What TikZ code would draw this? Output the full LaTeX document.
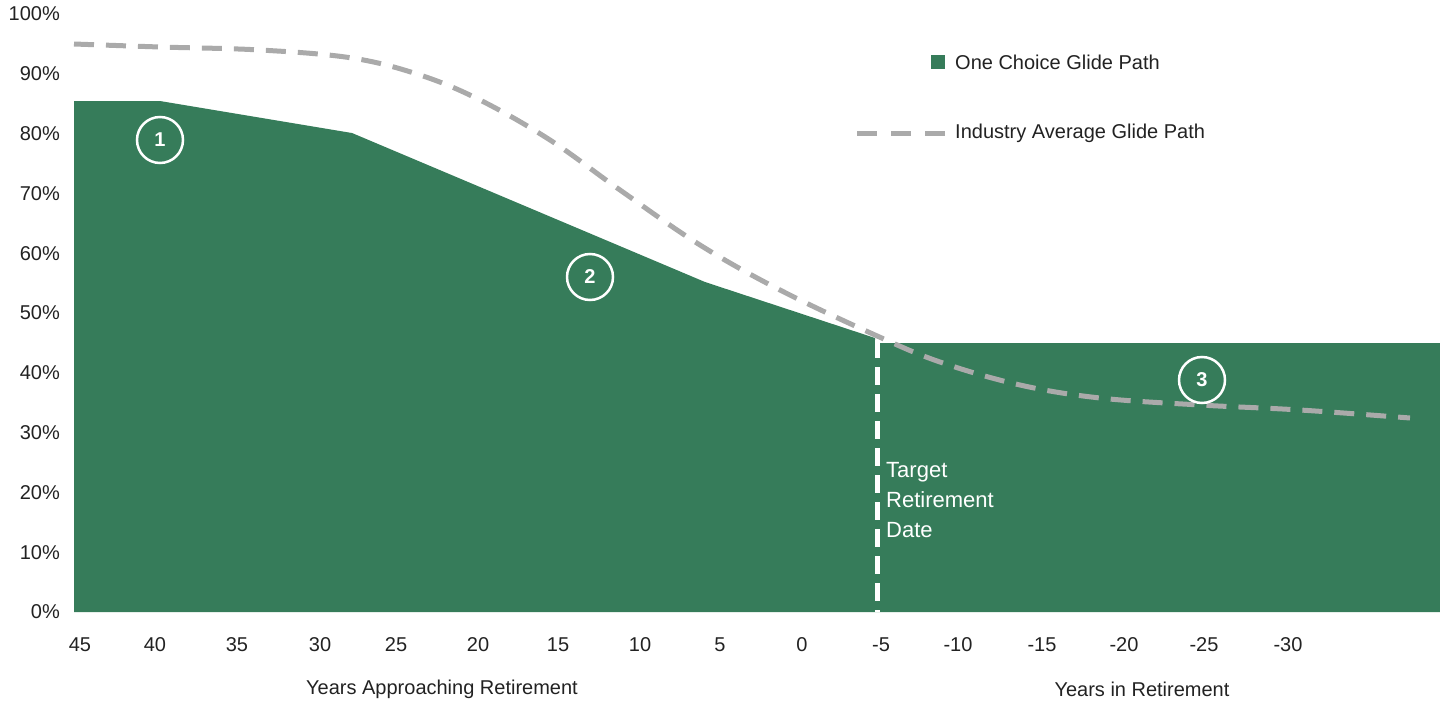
\documentclass[tikz,border=0pt]{standalone}
\usepackage{fontspec}
\setmainfont{Liberation Sans}
\definecolor{gp}{HTML}{367C5A}
\definecolor{dg}{HTML}{AAAAAA}
\definecolor{tx}{HTML}{222222}
\begin{document}
\begin{tikzpicture}[x=1pt,y=-1pt,
  lab/.style={text=tx,font=\fontsize{20}{24}\selectfont},
  num/.style={circle,draw=white,line width=2.5pt,minimum size=46pt,inner sep=0pt,text=white,font=\fontsize{20}{24}\selectfont\bfseries},
  avg/.style={dg,line width=5pt,dash pattern=on 20pt off 12pt}]
\useasboundingbox (0,0) rectangle (1440,712);
\fill[gp] (74,101) -- (160,101) -- (352,133) -- (705,282) -- (875,338) -- (875,343) -- (1440,343) -- (1440,612) -- (74,612) -- cycle;
\draw[avg] plot[smooth,tension=0.6] coordinates {(74,44) (160,47) (260,50) (352,58) (420,75) (480,100) (550,140) (620,190) (700,245) (780,290) (875,335) (940,362) (1020,385) (1100,398) (1200,405) (1300,410) (1410,418)};
\draw[white,line width=5pt,dash pattern=on 18pt off 9pt] (877,340) -- (877,612);
\node[lab,text=white,align=left,anchor=north west,inner sep=0pt,font=\fontsize{22}{30}\selectfont] (trd) at (886,462) {Target\\Retirement\\Date};
\node[num] (n1) at (160,140) {1};
\node[num] (n2) at (590,277) {2};
\node[num] (n3) at (1202,380) {3};
\foreach \p in {0,10,...,100}
  \node[lab,anchor=east,inner sep=0pt] (y\p) at (60,{612-5.98*\p}) {\p\%};
\foreach \v/\x in {45/80,40/155,35/237,30/320,25/396,20/478,15/558,10/640,5/720,0/802,-5/881,-10/958,-15/1042,-20/1124,-25/1204,-30/1288}
  \node[lab] (x\x) at (\x,645) {\v};
\node[lab] (t1) at (442,689) {Years Approaching Retirement};
\node[lab] (t2) at (1142,689) {Years in Retirement};
\fill[gp] (931,55) rectangle (945,69);
\node[lab,anchor=west,inner sep=0pt] (l1) at (955,62) {One Choice Glide Path};
\draw[avg,dash pattern=on 20pt off 14pt] (857,133) -- (945,133);
\node[lab,anchor=west,inner sep=0pt] (l2) at (955,133) {Industry Average Glide Path};
\end{tikzpicture}
\end{document}
